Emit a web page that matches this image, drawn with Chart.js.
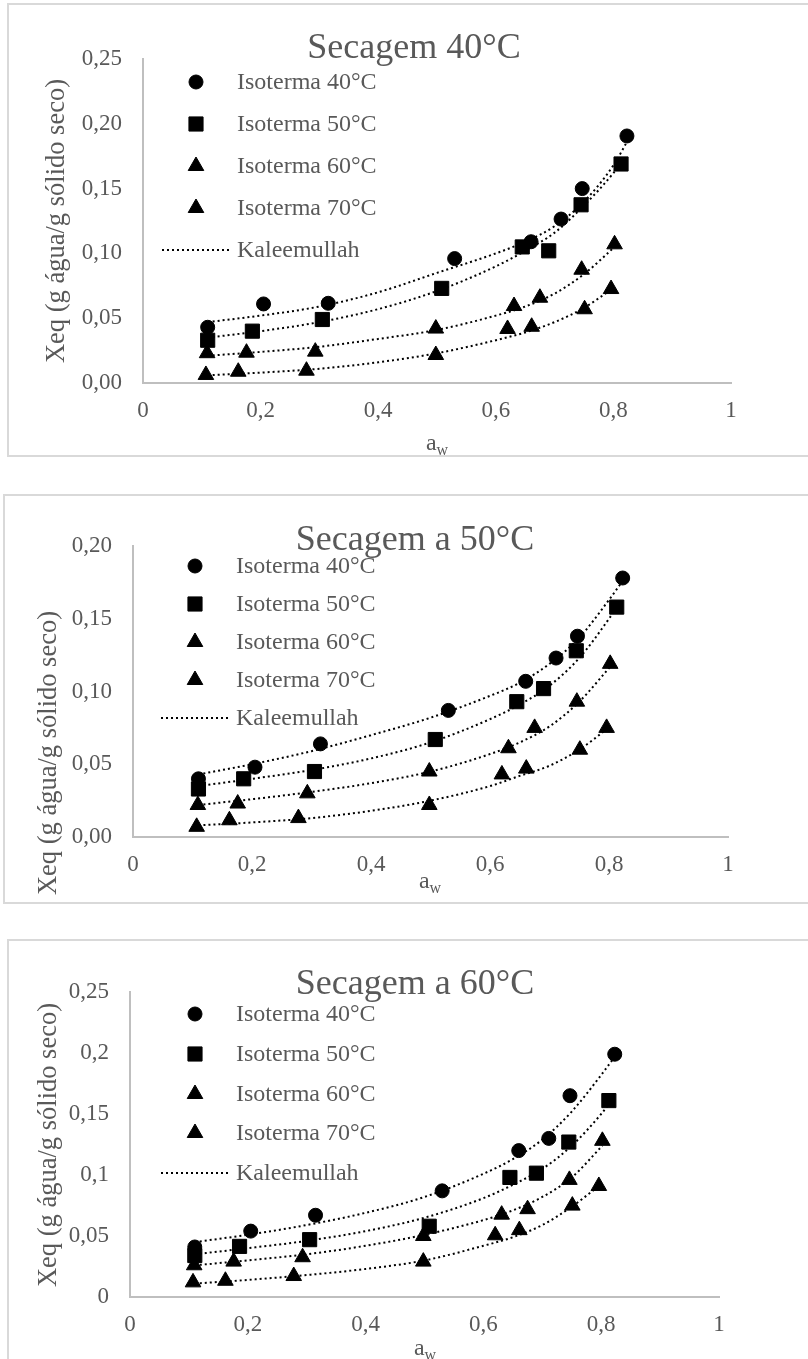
<!DOCTYPE html>
<html>
<head>
<meta charset="utf-8">
<script src="https://cdn.jsdelivr.net/npm/chart.js@4.4.1/dist/chart.umd.min.js"></script>
<style>
  html, body { margin: 0; padding: 0; background: #ffffff; }
  #page { position: relative; width: 808px; height: 1359px; overflow: hidden; }
  .frame { position: absolute; border: 2px solid #d9d9d9; box-sizing: border-box; }
  canvas { position: absolute; left: 0; }
</style>
</head>
<body>
<div id="page">
  <div class="frame" style="left:7px;top:3px;width:840px;height:454px"></div>
  <div class="frame" style="left:3px;top:494px;width:840px;height:410px"></div>
  <div class="frame" style="left:7px;top:939px;width:840px;height:460px"></div>
  <canvas id="c1" width="808" height="460" style="top:0px"></canvas>
  <canvas id="c2" width="808" height="460" style="top:460px"></canvas>
  <canvas id="c3" width="808" height="439" style="top:920px"></canvas>
</div>
<script>
// ---- text ----
const chartTitles = ['Secagem 40°C', 'Secagem a 50°C', 'Secagem a 60°C'];
const seriesLabels = ['Isoterma 40°C', 'Isoterma 50°C', 'Isoterma 60°C', 'Isoterma 70°C'];
const fitLabel = 'Kaleemullah';
const yAxisTitle = 'Xeq (g água/g sólido seco)';
const xAxisTitleMain = 'a';
const xAxisTitleSub = 'w';

// ---- tick labels ----
const xTickLabels = ['0', '0,2', '0,4', '0,6', '0,8', '1'];
const yTickLabels40 = ['0,00', '0,05', '0,10', '0,15', '0,20', '0,25'];
const yTickLabels50 = ['0,00', '0,05', '0,10', '0,15', '0,20'];
const yTickLabels60 = ['0', '0,05', '0,1', '0,15', '0,2', '0,25'];

// ---- water activity of the experimental points ----
const awIso40 = [0.110, 0.205, 0.315, 0.530, 0.660, 0.711, 0.747, 0.823];
const awIso50 = [0.110, 0.186, 0.305, 0.508, 0.645, 0.690, 0.745, 0.813];
const awIso60 = [0.109, 0.176, 0.293, 0.498, 0.631, 0.675, 0.746, 0.802];
const awIso70 = [0.107, 0.162, 0.278, 0.498, 0.620, 0.661, 0.751, 0.796];

// ---- water activity along the Kaleemullah curves ----
const fitAw40 = [0.11, 0.2, 0.3, 0.4, 0.5, 0.6, 0.65, 0.7, 0.75, 0.8, 0.823];
const fitAw50 = [0.11, 0.2, 0.3, 0.4, 0.5, 0.6, 0.65, 0.7, 0.75, 0.8, 0.813];
const fitAw60 = [0.11, 0.2, 0.3, 0.4, 0.5, 0.6, 0.65, 0.7, 0.75, 0.802];
const fitAw70 = [0.11, 0.2, 0.3, 0.4, 0.5, 0.6, 0.65, 0.7, 0.75, 0.796];

// ---- Secagem 40°C ----
const d40Iso40 = [0.043, 0.061, 0.0615, 0.096, 0.109, 0.1265, 0.150, 0.1906];
const d40Iso50 = [0.033, 0.040, 0.049, 0.073, 0.105, 0.102, 0.1375, 0.169];
const d40Iso60 = [0.023, 0.0234, 0.0242, 0.042, 0.0594, 0.0658, 0.0874, 0.107];
const d40Iso70 = [0.0062, 0.0087, 0.0095, 0.0216, 0.0417, 0.0434, 0.0569, 0.0725];
const k40Iso40 = [0.047, 0.052, 0.059, 0.070, 0.085, 0.100, 0.109, 0.121, 0.140, 0.168, 0.186];
const k40Iso50 = [0.035, 0.040, 0.047, 0.057, 0.071, 0.090, 0.102, 0.116, 0.137, 0.162, 0.170];
const k40Iso60 = [0.021, 0.024, 0.028, 0.034, 0.041, 0.052, 0.059, 0.069, 0.084, 0.105];
const k40Iso70 = [0.006, 0.008, 0.011, 0.016, 0.023, 0.033, 0.039, 0.047, 0.058, 0.072];

// ---- Secagem a 50°C ----
const d50Iso40 = [0.040, 0.048, 0.064, 0.087, 0.107, 0.123, 0.138, 0.178];
const d50Iso50 = [0.033, 0.040, 0.045, 0.067, 0.093, 0.102, 0.128, 0.158];
const d50Iso60 = [0.022, 0.023, 0.030, 0.045, 0.061, 0.075, 0.093, 0.119];
const d50Iso70 = [0.007, 0.0115, 0.013, 0.022, 0.043, 0.047, 0.060, 0.075];
const k50Iso40 = [0.043, 0.050, 0.059, 0.070, 0.082, 0.097, 0.106, 0.119, 0.137, 0.163, 0.176];
const k50Iso50 = [0.035, 0.040, 0.046, 0.054, 0.065, 0.081, 0.091, 0.104, 0.123, 0.150, 0.158];
const k50Iso60 = [0.022, 0.026, 0.031, 0.037, 0.045, 0.057, 0.065, 0.076, 0.093, 0.117];
const k50Iso70 = [0.008, 0.010, 0.013, 0.018, 0.025, 0.035, 0.042, 0.049, 0.060, 0.074];

// ---- Secagem a 60°C ----
const d60Iso40 = [0.041, 0.054, 0.067, 0.087, 0.120, 0.130, 0.165, 0.199];
const d60Iso50 = [0.034, 0.0415, 0.047, 0.058, 0.098, 0.1015, 0.127, 0.161];
const d60Iso60 = [0.026, 0.029, 0.0326, 0.050, 0.0675, 0.072, 0.096, 0.128];
const d60Iso70 = [0.012, 0.0133, 0.0172, 0.029, 0.0506, 0.0548, 0.0749, 0.091];
const k60Iso40 = [0.045, 0.051, 0.059, 0.069, 0.082, 0.101, 0.113, 0.129, 0.152, 0.182, 0.197];
const k60Iso50 = [0.035, 0.040, 0.046, 0.054, 0.065, 0.081, 0.092, 0.105, 0.124, 0.150, 0.158];
const k60Iso60 = [0.026, 0.030, 0.035, 0.042, 0.051, 0.063, 0.071, 0.082, 0.098, 0.124];
const k60Iso70 = [0.011, 0.014, 0.018, 0.023, 0.030, 0.042, 0.049, 0.059, 0.074, 0.091];

// ---- styling ----
const SERIF = '"Liberation Serif", "Times New Roman", serif';
const TEXT_GREY = '#595959';
const AXIS_GREY = '#bfbfbf';
const markerStyles = [
  { pointStyle: 'circle', radius: 7 },
  { pointStyle: 'rect', radius: 10 },
  { pointStyle: 'triangle', radius: 9 },
  { pointStyle: 'triangle', radius: 9 }
];

const pairs = (xs, ys) => xs.map((x, i) => ({ x: x, y: ys[i] }));

function buildDatasets(points, fits) {
  const awSets = [awIso40, awIso50, awIso60, awIso70];
  const fitAwSets = [fitAw40, fitAw50, fitAw60, fitAw70];
  const out = [];
  points.forEach((ys, i) => {
    out.push({
      label: seriesLabels[i],
      data: pairs(awSets[i], ys),
      showLine: false,
      pointStyle: markerStyles[i].pointStyle,
      pointRadius: markerStyles[i].radius,
      pointBackgroundColor: '#000000',
      pointBorderColor: '#000000',
      pointBorderWidth: 1,
      order: 1,
      legendEntry: 'marker'
    });
  });
  fits.forEach((ys, i) => {
    out.push({
      label: fitLabel,
      data: pairs(fitAwSets[i], ys),
      showLine: true,
      borderColor: '#000000',
      borderWidth: 2,
      borderDash: [2, 3],
      pointRadius: 0,
      tension: 0.4,
      cubicInterpolationMode: 'monotone',
      order: 2,
      legendEntry: i === 0 ? 'line' : null
    });
  });
  return out;
}

function drawMarker(ctx, style, r, x, y) {
  ctx.beginPath();
  if (style === 'circle') {
    ctx.arc(x, y, r, 0, Math.PI * 2);
  } else if (style === 'rect') {
    const s = Math.SQRT1_2 * r;
    ctx.rect(x - s, y - s, 2 * s, 2 * s);
  } else {
    ctx.moveTo(x, y - r);
    ctx.lineTo(x + Math.sin(2 * Math.PI / 3) * r, y + r / 2);
    ctx.lineTo(x - Math.sin(2 * Math.PI / 3) * r, y + r / 2);
    ctx.closePath();
  }
  ctx.fillStyle = '#000000';
  ctx.fill();
  ctx.lineWidth = 1;
  ctx.strokeStyle = '#000000';
  ctx.stroke();
}

// Title, legend and axis titles drawn on top of the chart.
const decorPlugin = {
  id: 'decor',
  afterDraw(chart) {
    const d = chart.config.options.decor;
    const ctx = chart.ctx;
    ctx.save();
    ctx.fillStyle = TEXT_GREY;
    ctx.textBaseline = 'alphabetic';

    // chart title
    ctx.font = d.titleSize + 'px ' + SERIF;
    ctx.textAlign = 'center';
    ctx.fillText(d.title, d.titleX, d.titleY);

    // legend
    ctx.font = d.legendSize + 'px ' + SERIF;
    ctx.textAlign = 'left';
    let row = 0;
    chart.data.datasets.forEach((ds) => {
      if (!ds.legendEntry) return;
      const base = d.legendRows[row];
      const cy = base - 7;
      if (ds.legendEntry === 'marker') {
        drawMarker(ctx, ds.pointStyle, ds.pointRadius, d.legendMarkerX, cy);
      } else {
        ctx.save();
        ctx.strokeStyle = '#000000';
        ctx.lineWidth = 2;
        ctx.setLineDash([2, 3]);
        ctx.beginPath();
        ctx.moveTo(d.legendLineX0, cy);
        ctx.lineTo(d.legendLineX1, cy);
        ctx.stroke();
        ctx.restore();
      }
      ctx.fillStyle = TEXT_GREY;
      ctx.fillText(ds.label, d.legendTextX, base);
      row++;
    });

    // y axis title
    ctx.save();
    ctx.translate(d.yTitleX, d.yTitleY);
    ctx.rotate(-Math.PI / 2);
    ctx.font = d.yTitleSize + 'px ' + SERIF;
    ctx.textAlign = 'center';
    ctx.fillText(yAxisTitle, 0, 0);
    ctx.restore();

    // x axis title with subscript
    ctx.font = d.xTitleSize + 'px ' + SERIF;
    const wMain = ctx.measureText(xAxisTitleMain).width;
    ctx.font = d.xSubSize + 'px ' + SERIF;
    const wSub = ctx.measureText(xAxisTitleSub).width;
    const x0 = d.xTitleX - (wMain + wSub) / 2;
    ctx.textAlign = 'left';
    ctx.font = d.xTitleSize + 'px ' + SERIF;
    ctx.fillText(xAxisTitleMain, x0, d.xTitleY);
    ctx.font = d.xSubSize + 'px ' + SERIF;
    ctx.fillText(xAxisTitleSub, x0 + wMain, d.xTitleY + 5);
    ctx.restore();
  }
};

function makeChart(canvasId, layout, yMax, yLabels, datasets, decor) {
  const canvas = document.getElementById(canvasId);
  return new Chart(canvas, {
    type: 'scatter',
    data: { datasets: datasets },
    plugins: [decorPlugin],
    options: {
      responsive: false,
      animation: false,
      events: [],
      layout: {
        padding: {
          left: 0,
          top: layout.top,
          right: canvas.width - layout.right,
          bottom: canvas.height - layout.bottom - 50
        }
      },
      plugins: {
        legend: { display: false },
        title: { display: false },
        tooltip: { enabled: false }
      },
      scales: {
        x: {
          type: 'linear',
          position: 'bottom',
          min: 0, max: 1,
          ticks: {
            stepSize: 0.2,
            padding: 14,
            maxRotation: 0,
            color: TEXT_GREY,
            font: { family: SERIF, size: 23 },
            callback: (v, i) => xTickLabels[i]
          },
          grid: { display: false, drawTicks: false },
          border: { display: true, color: AXIS_GREY, width: 2 },
          afterFit: (s) => { s.height = 50; }
        },
        y: {
          type: 'linear',
          position: 'left',
          min: 0, max: yMax,
          ticks: {
            stepSize: 0.05,
            padding: 21,
            color: TEXT_GREY,
            font: { family: SERIF, size: 23 },
            callback: (v, i) => yLabels[i]
          },
          grid: { display: false, drawTicks: false },
          border: { display: true, color: AXIS_GREY, width: 2 },
          afterFit: (s) => { s.width = layout.left; }
        }
      },
      decor: decor
    }
  });
}

const commonDecor = {
  titleSize: 36, legendSize: 24, yTitleSize: 26.5, xTitleSize: 24, xSubSize: 16,
  legendMarkerX: 196, legendTextX: 237, legendLineX0: 162, legendLineX1: 230
};

makeChart('c1', { left: 143, right: 731, top: 59, bottom: 383 }, 0.25, yTickLabels40,
  buildDatasets([d40Iso40, d40Iso50, d40Iso60, d40Iso70], [k40Iso40, k40Iso50, k40Iso60, k40Iso70]),
  Object.assign({}, commonDecor, {
    title: chartTitles[0], titleX: 414, titleY: 58,
    legendRows: [89, 131, 173, 215, 257],
    yTitleX: 64, yTitleY: 221, xTitleX: 437, xTitleY: 450
  }));

makeChart('c2', { left: 133, right: 728, top: 86, bottom: 377 }, 0.20, yTickLabels50,
  buildDatasets([d50Iso40, d50Iso50, d50Iso60, d50Iso70], [k50Iso40, k50Iso50, k50Iso60, k50Iso70]),
  Object.assign({}, commonDecor, {
    title: chartTitles[1], titleX: 415, titleY: 90,
    legendMarkerX: 195, legendTextX: 236, legendLineX0: 161, legendLineX1: 229,
    legendRows: [113, 151, 189, 227, 265],
    yTitleX: 56, yTitleY: 293, xTitleX: 430, xTitleY: 428
  }));

makeChart('c3', { left: 130, right: 719, top: 72, bottom: 377 }, 0.25, yTickLabels60,
  buildDatasets([d60Iso40, d60Iso50, d60Iso60, d60Iso70], [k60Iso40, k60Iso50, k60Iso60, k60Iso70]),
  Object.assign({}, commonDecor, {
    title: chartTitles[2], titleX: 415, titleY: 74,
    legendMarkerX: 195, legendTextX: 236, legendLineX0: 161, legendLineX1: 229,
    legendRows: [101, 141, 181, 220, 260],
    yTitleX: 56, yTitleY: 225, xTitleX: 425, xTitleY: 435
  }));
</script>
</body>
</html>
